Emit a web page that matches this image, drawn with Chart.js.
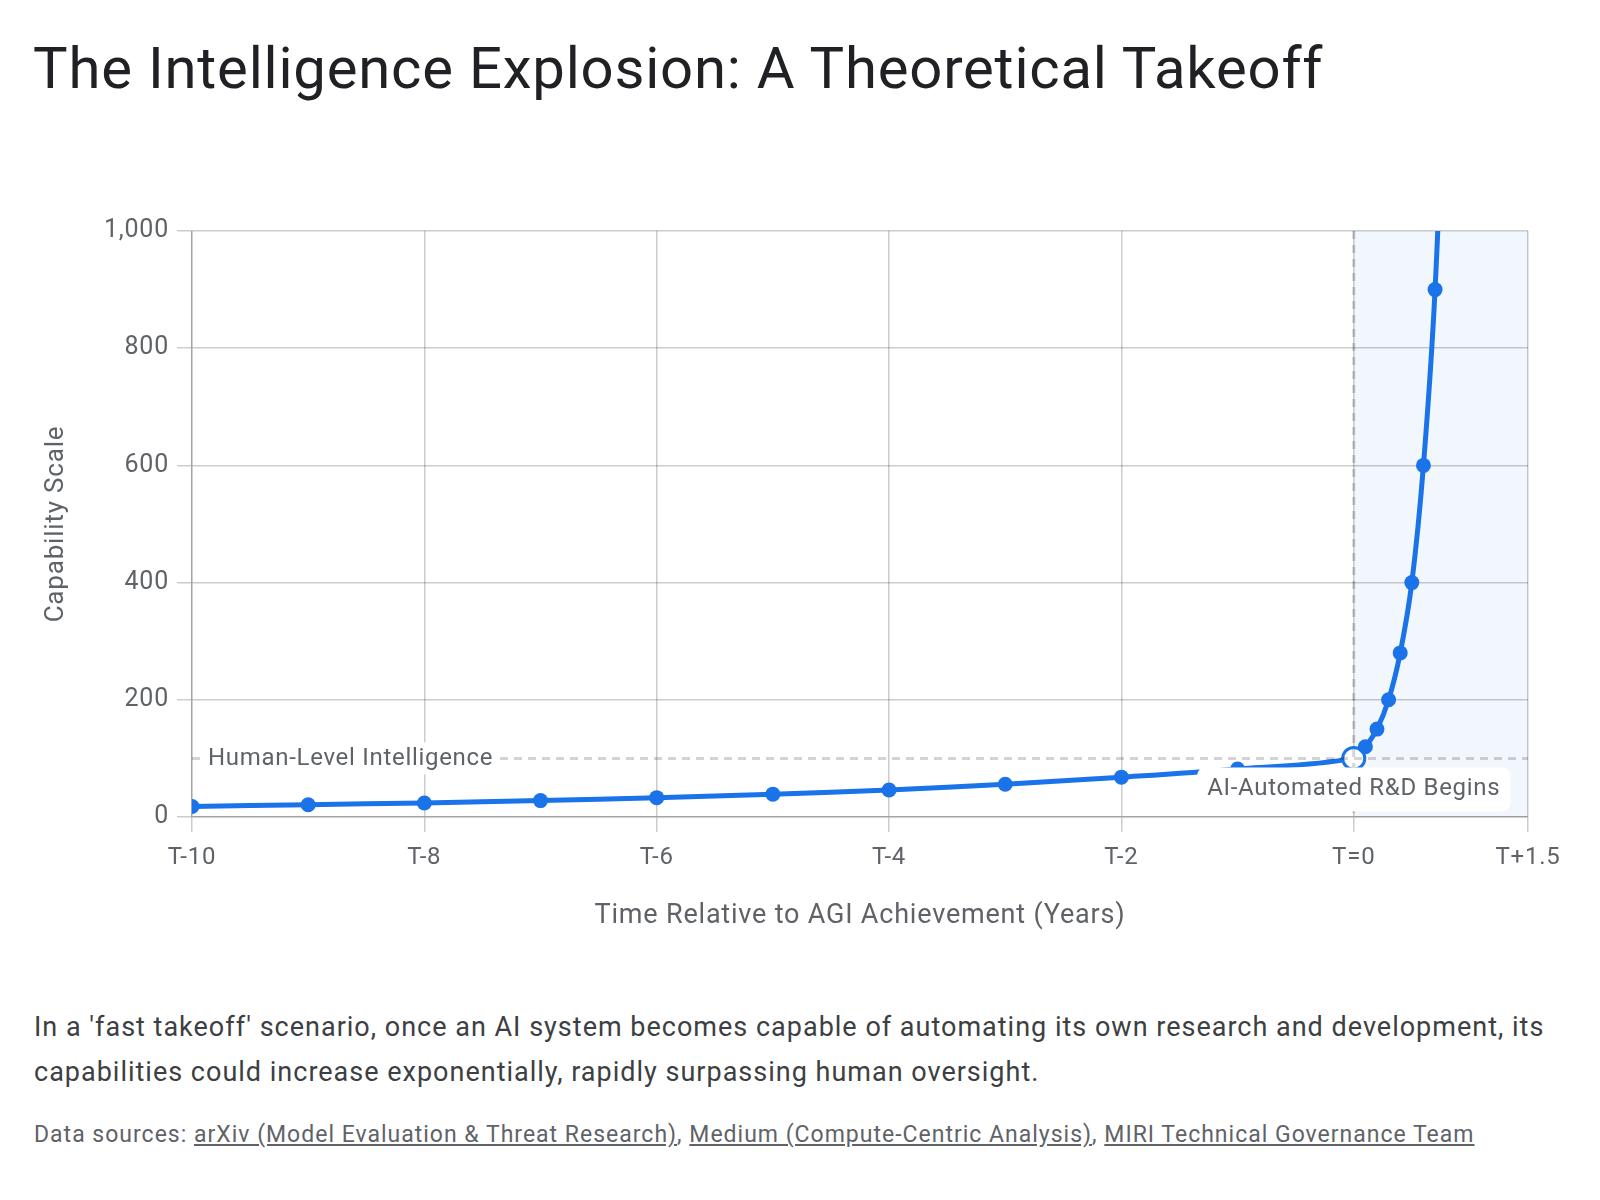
<!DOCTYPE html>
<html>
<head>
<meta charset="utf-8">
<script src="https://cdn.jsdelivr.net/npm/chart.js@4.4.1/dist/chart.umd.min.js"></script>
<style>
  body { margin: 0; background: #fff; font-family: Roboto, sans-serif; }
  .page { position: relative; width: 1600px; height: 1200px; }
  h1 { position: absolute; left: 33px; top: 33px; margin: 0; font-weight: 400; font-size: 58px; letter-spacing: 0.8px; line-height: 70px; color: #202124; white-space: nowrap; }
  .chart-box { position: absolute; left: 0; top: 190px; width: 1600px; height: 750px; }
  .note { position: absolute; left: 34px; top: 1005px; width: 1560px; margin: 0; font-size: 27px; letter-spacing: 1px; line-height: 45px; color: #3c4043; }
  .sources { position: absolute; left: 34px; top: 1121px; margin: 0; font-size: 23px; letter-spacing: 1px; color: #5f6368; white-space: nowrap; }
  .sources a { color: #5f6368; text-decoration: underline; }
</style>
</head>
<body>
<div class="page">
  <h1>The Intelligence Explosion: A Theoretical Takeoff</h1>
  <div class="chart-box"><canvas id="takeoffChart"></canvas></div>
  <p class="note">In a 'fast takeoff' scenario, once an AI system becomes capable of automating its own research and development, its<br>capabilities could increase exponentially, rapidly surpassing human oversight.</p>
  <p class="sources">Data sources: <a href="#">arXiv (Model Evaluation &amp; Threat Research)</a>, <a href="#">Medium (Compute-Centric Analysis)</a>, <a href="#">MIRI Technical Governance Team</a></p>
</div>
<script>
// Years relative to AGI and capability values
const years = [-10, -9, -8, -7, -6, -5, -4, -3, -2, -1, 0, 0.1, 0.2, 0.3, 0.4, 0.5, 0.6, 0.7, 0.8];
const capability = [18, 21, 24, 28, 33, 39, 46, 56, 68, 82, 100, 120, 150, 200, 280, 400, 600, 900, 1400];

const xTickValues = [-10, -8, -6, -4, -2, 0, 1.5];
const xTickLabels = ['T-10', 'T-8', 'T-6', 'T-4', 'T-2', 'T=0', 'T+1.5'];

const humanLevel = 100;
const humanLevelLabel = 'Human-Level Intelligence';
const takeoffStart = 0;
const takeoffEnd = 1.5;
const takeoffLabel = 'AI-Automated R&D Begins';

const blue = '#1a73e8';
const gridGray = 'rgba(0,0,0,0.2)';
const labelFont = '400 24px Roboto';

const zeroIndex = years.indexOf(0);

// shaded region + dashed markers + labels
const annotations = {
    id: 'annotations',
    beforeDraw(chart) {
        const { ctx, chartArea, scales: { x } } = chart;
        ctx.letterSpacing = '0.8px';
        const x0 = x.getPixelForValue(takeoffStart);
        const x1 = x.getPixelForValue(takeoffEnd);
        ctx.save();
        ctx.fillStyle = 'rgba(26,115,232,0.06)';
        ctx.fillRect(x0, chartArea.top, x1 - x0, chartArea.bottom - chartArea.top);
        ctx.restore();
    },
    afterDatasetsDraw(chart) {
        const { ctx, chartArea, scales: { x, y } } = chart;
        const x0 = x.getPixelForValue(takeoffStart);
        const yh = y.getPixelForValue(humanLevel);

        ctx.save();
        ctx.strokeStyle = 'rgba(0,0,0,0.17)';
        ctx.lineWidth = 3;
        ctx.setLineDash([8, 6]);
        ctx.beginPath();
        ctx.moveTo(x0, chartArea.top);
        ctx.lineTo(x0, chartArea.bottom);
        ctx.stroke();
        ctx.beginPath();
        ctx.moveTo(chartArea.left, yh);
        ctx.lineTo(chartArea.right, yh);
        ctx.stroke();
        ctx.setLineDash([]);

        ctx.font = labelFont;
        ctx.letterSpacing = '0.7px';
        ctx.textBaseline = 'middle';

        // human-level label
        let w = ctx.measureText(humanLevelLabel).width;
        ctx.fillStyle = '#fff';
        ctx.fillRect(chartArea.left + 8, yh - 16, w + 14, 32);
        ctx.fillStyle = '#5f6368';
        ctx.textAlign = 'left';
        ctx.fillText(humanLevelLabel, chartArea.left + 16, yh + 1);

        // takeoff label
        w = ctx.measureText(takeoffLabel).width;
        const bw = w + 20, bh = 44;
        const bx = x0 - bw / 2, by = yh + 9;
        ctx.fillStyle = '#fff';
        ctx.beginPath();
        ctx.roundRect(bx, by, bw, bh, 8);
        ctx.fill();
        ctx.fillStyle = '#5f6368';
        ctx.textAlign = 'center';
        ctx.fillText(takeoffLabel, x0, by + bh / 2);
        ctx.restore();
    }
};

const ctx = document.getElementById('takeoffChart').getContext('2d');
new Chart(ctx, {
    type: 'line',
    data: {
        datasets: [{
            data: years.map((yr, i) => ({ x: yr, y: capability[i] })),
            borderColor: blue,
            borderWidth: 5,
            tension: 0.4,
            pointRadius: c => c.dataIndex === zeroIndex ? 11 : 7.5,
            pointBorderWidth: c => c.dataIndex === zeroIndex ? 3 : 0,
            pointBackgroundColor: c => c.dataIndex === zeroIndex ? '#fff' : blue,
            pointBorderColor: blue
        }]
    },
    options: {
        responsive: true,
        maintainAspectRatio: false,
        animation: false,
        layout: { padding: { left: 18, right: 72, top: 41, bottom: 7 } },
        plugins: {
            legend: { display: false },
            tooltip: { enabled: false }
        },
        scales: {
            x: {
                type: 'linear',
                min: -10,
                max: 1.5,
                afterBuildTicks: scale => {
                    scale.ticks = xTickValues.map(v => ({ value: v }));
                },
                afterFit: scale => { scale.height = 116; },
                ticks: {
                    padding: 12,
                    color: '#5f6368',
                    font: { family: 'Roboto', size: 24 },
                    callback: v => xTickLabels[xTickValues.indexOf(v)]
                },
                grid: { color: gridGray, lineWidth: 1.5, tickLength: 15 },
                border: { color: gridGray, width: 1.5 },
                title: {
                    display: true,
                    text: 'Time Relative to AGI Achievement (Years)',
                    color: '#5f6368',
                    font: { family: 'Roboto', size: 27 },
                    padding: { top: 0, bottom: 1 }
                }
            },
            y: {
                min: 0,
                max: 1000,
                afterFit: scale => { scale.width = 174; },
                ticks: {
                    stepSize: 200,
                    padding: 8,
                    color: '#5f6368',
                    font: { family: 'Roboto', size: 25 },
                    callback: v => v.toLocaleString('en-US')
                },
                grid: { color: gridGray, lineWidth: 1.5, tickLength: 15 },
                border: { color: gridGray, width: 1.5 },
                title: {
                    display: true,
                    text: 'Capability Scale',
                    color: '#5f6368',
                    font: { family: 'Roboto', size: 26 },
                    padding: { top: 23, bottom: 0 }
                }
            }
        }
    },
    plugins: [annotations]
});
</script>
</body>
</html>
